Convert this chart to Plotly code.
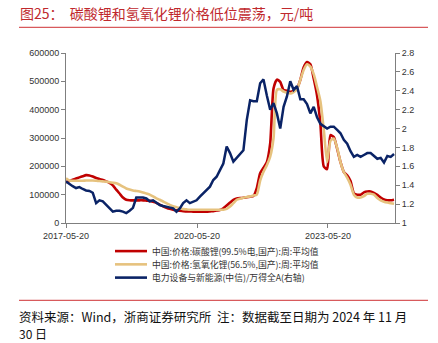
import pandas as pd
import plotly.graph_objects as go

# 4-weekly observation dates
dates = pd.date_range("2017-05-20", periods=99, freq="28D")

# 碳酸锂 (元/吨, thousands)
carbonate_k = [144, 148, 153, 157, 161, 165, 169, 168, 164, 159,
               155, 152, 147, 142, 133, 118, 104, 90, 82, 80,
               80, 80, 80, 80, 79, 78, 75, 71, 65, 59,
               54, 50, 47, 45, 43, 42, 41, 41, 40, 40,
               40, 40, 40, 41, 42, 44, 46, 52, 62, 72,
               82, 86, 88, 89, 91, 93, 95, 123, 176, 195,
               215, 281, 475, 506, 498, 469, 467, 463, 466, 474,
               505, 550, 568, 560, 510, 450, 350, 200, 190, 310,
               303, 262, 215, 180, 168, 148, 105, 100, 100, 108,
               111, 111, 106, 99, 90, 83, 80, 80, 82]

# 氢氧化锂 (元/吨, thousands)
hydroxide_k = [158, 150, 149, 149, 149, 149, 150, 150, 150, 149,
               148, 147, 146, 144, 142, 140, 135, 128, 122, 118,
               115, 113, 111, 108, 104, 100, 94, 87, 82, 76,
               70, 64, 59, 56, 52, 49, 48, 47, 47, 47,
               47, 47, 47, 47, 47, 47, 47, 47, 50, 58,
               70, 82, 86, 89, 92, 94, 97, 100, 150, 181,
               204, 234, 300, 470, 472, 464, 460, 457, 462, 472,
               505, 540, 560, 552, 525, 480, 430, 330, 215, 290,
               298, 265, 215, 180, 160, 135, 100, 90, 90, 95,
               103, 103, 100, 88, 80, 75, 72, 70, 68]

# 电力设备与新能源(中信)/万得全A (右轴)
ratio = [1.44, 1.41, 1.39, 1.37, 1.38, 1.36, 1.345, 1.34, 1.32, 1.21,
         1.24, 1.23, 1.19, 1.15, 1.12, 1.13, 1.13, 1.12, 1.105, 1.13,
         1.16, 1.27, 1.27, 1.27, 1.26, 1.23, 1.24, 1.21, 1.19, 1.18,
         1.17, 1.16, 1.155, 1.12, 1.155, 1.21, 1.24, 1.21, 1.225, 1.24,
         1.28, 1.315, 1.35, 1.385, 1.455, 1.49, 1.56, 1.63, 1.81, 1.74,
         1.65, 1.69, 1.72, 1.77, 2.09, 2.30, 2.29, 2.29, 2.48, 2.52,
         2.35, 2.20, 2.27, 2.16, 2.00, 2.23, 2.34, 2.50, 2.41, 2.45,
         2.31, 2.31, 2.26, 2.16, 2.23, 2.12, 2.05, 2.02, 2.00, 2.02,
         2.02, 1.985, 1.95, 1.88, 1.84, 1.76, 1.70, 1.72, 1.70, 1.72,
         1.74, 1.74, 1.71, 1.68, 1.69, 1.64, 1.71, 1.70, 1.73]

carbonate = [v * 1000 for v in carbonate_k]
hydroxide = [v * 1000 for v in hydroxide_k]

names = ["中国:价格:碳酸锂(99.5%电,国产):周:平均值",
         "中国:价格:氢氧化锂(56.5%,国产):周:平均值",
         "电力设备与新能源(中信)/万得全A(右轴)"]
colors = ["#C00000", "#E6C27E", "#0A2366"]

x_ticks = ["2017-05-20", "2020-05-20", "2023-05-20"]

fig = go.Figure()
fig.add_trace(go.Scatter(x=dates, y=carbonate, mode="lines", name=names[0],
                         line=dict(color=colors[0], width=2.6, shape="spline", smoothing=0.6)))
fig.add_trace(go.Scatter(x=dates, y=hydroxide, mode="lines", name=names[1],
                         line=dict(color=colors[1], width=2.6, shape="spline", smoothing=0.6)))
fig.add_trace(go.Scatter(x=dates, y=ratio, mode="lines", name=names[2], yaxis="y2",
                         line=dict(color=colors[2], width=2.5)))

axis_font = dict(family="Liberation Sans, Arial, sans-serif", size=9, color="#333333")
cjk = "Noto Sans CJK SC, sans-serif"

fig.update_layout(
    width=438, height=343,
    margin=dict(l=66, r=43, t=53, b=120),
    paper_bgcolor="white", plot_bgcolor="white",
    showlegend=False,
    xaxis=dict(range=["2017-05-20", "2024-12-01"], tickvals=x_ticks, ticktext=x_ticks,
               showgrid=False, zeroline=False, showline=True, linecolor="#7f7f7f", linewidth=1,
               ticks="outside", ticklen=4, tickcolor="#7f7f7f", tickfont=axis_font),
    yaxis=dict(range=[0, 600000], dtick=100000, tickformat="d",
               showgrid=False, zeroline=False, showline=True, linecolor="#7f7f7f", linewidth=1,
               ticks="outside", ticklen=4, tickcolor="#7f7f7f", tickfont=axis_font),
    yaxis2=dict(range=[1, 2.8], dtick=0.2, overlaying="y", side="right",
                showgrid=False, zeroline=False, showline=True, linecolor="#7f7f7f", linewidth=1,
                ticks="outside", ticklen=4, tickcolor="#7f7f7f", tickfont=axis_font),
)

# paper-coordinate helpers (plot area: x 66..395 px, y 52.7..223.3 px)
def px(xp):
    return (xp - 66) / 329.0

def py(yp):
    return (223.3 - yp) / 170.6

# title and rules
fig.add_annotation(text="图25：  碳酸锂和氢氧化锂价格低位震荡，元/吨", xref="paper", yref="paper",
                   x=px(18), y=py(13), xanchor="left", yanchor="middle", showarrow=False,
                   font=dict(family=cjk, size=14, color="#C0282D"))
fig.add_shape(type="line", xref="paper", yref="paper", x0=px(19), x1=px(428), y0=py(27), y1=py(27),
              line=dict(color="#D85A5C", width=1.2))
fig.add_shape(type="line", xref="paper", yref="paper", x0=px(19), x1=px(428), y0=py(301), y1=py(301),
              line=dict(color="#D85A5C", width=1.2))

# legend
legend_y = [251.5, 264.8, 278.1]
for name, col, yy in zip(names, colors, legend_y):
    fig.add_shape(type="line", xref="paper", yref="paper", x0=px(115), x1=px(147), y0=py(yy), y1=py(yy),
                  line=dict(color=col, width=2.6))
    fig.add_annotation(text=name, xref="paper", yref="paper", x=px(151), y=py(yy),
                       xanchor="left", yanchor="middle", showarrow=False, borderpad=0,
                       font=dict(family=cjk, size=8.8, color="#333333"))

# source note
fig.add_annotation(text="资料来源：Wind，浙商证券研究所  注：数据截至日期为 2024 年 11 月",
                   xref="paper", yref="paper", x=px(17), y=py(316.7), xanchor="left", yanchor="middle",
                   showarrow=False, font=dict(family=cjk, size=12.5, color="#111111"))
fig.add_annotation(text="30 日", xref="paper", yref="paper", x=px(17), y=py(334),
                   xanchor="left", yanchor="middle", showarrow=False,
                   font=dict(family=cjk, size=12, color="#111111"))

fig.write_html("out.html")
